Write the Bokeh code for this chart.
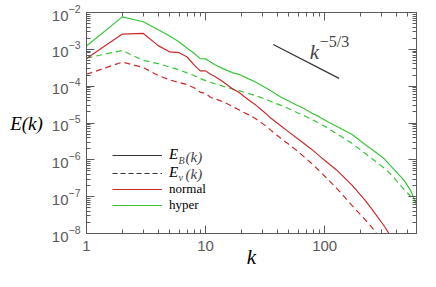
from bokeh.plotting import figure
from bokeh.models import (LogAxis, FixedTicker, Legend, LegendItem, Label,
                          CustomJSTickFormatter, ColumnDataSource)
from bokeh.embed import file_html
from bokeh.resources import INLINE

# wavenumbers
k = [1, 2, 3, 4, 5, 6, 7, 8, 9, 10, 11, 12, 14, 17, 19, 23, 26, 32, 35, 43,
     48, 59, 65, 79, 89, 104, 125, 171, 218, 250, 318, 350, 463, 530, 590]

# hyper: magnetic (solid) and kinetic (dashed) spectra
hyper_EB = [1.23e-3, 7.6e-3, 5.6e-3, 3.4e-3, 2.3e-3, 1.58e-3, 1.07e-3, 7.8e-4, 5.6e-4, 5.5e-4,
            4.5e-4, 3.8e-4, 3.0e-4, 2.3e-4, 2.1e-4, 1.58e-4, 1.32e-4, 9.1e-5, 7.6e-5, 5.0e-5,
            4.2e-5, 3.0e-5, 2.6e-5, 1.82e-5, 1.51e-5, 1.12e-5, 8.3e-6, 4.8e-6, 2.6e-6, 1.9e-6,
            1.05e-6, 7.4e-7, 2.8e-7, 1.41e-7, 6.0e-8]
hyper_Ev = [5.8e-4, 9.3e-4, 5.0e-4, 4.1e-4, 3.3e-4, 2.75e-4, 2.3e-4, 1.95e-4, 1.62e-4, 1.41e-4,
            1.26e-4, 1.17e-4, 1.0e-4, 8.3e-5, 7.6e-5, 6.3e-5, 5.6e-5, 4.4e-5, 3.9e-5, 3.0e-5,
            2.6e-5, 1.9e-5, 1.66e-5, 1.23e-5, 1.0e-5, 7.6e-6, 5.2e-6, 2.75e-6, 1.51e-6, 1.07e-6,
            5.9e-7, 4.4e-7, 1.58e-7, 1.0e-7, 6.8e-8]
# normal: magnetic (solid) and kinetic (dashed) spectra
normal_EB = [5.6e-4, 2.6e-3, 2.7e-3, 1.26e-3, 8.5e-4, 8.1e-4, 6.2e-4, 3.8e-4, 2.6e-4, 2.6e-4,
             2.1e-4, 1.82e-4, 1.32e-4, 8.3e-5, 6.8e-5, 4.2e-5, 3.2e-5, 1.82e-5, 1.38e-5, 8.3e-6,
             6.3e-6, 3.8e-6, 3.0e-6, 1.86e-6, 1.32e-6, 8.7e-7, 5.4e-7, 2.0e-7, 8.1e-8, 4.5e-8,
             1.55e-8, 9.5e-9, 1.8e-9, 6.3e-10, 2.5e-10]
normal_Ev = [2.1e-4, 4.5e-4, 3.2e-4, 1.95e-4, 1.48e-4, 1.26e-4, 1.1e-4, 9.1e-5, 6.9e-5, 6.3e-5,
             5.0e-5, 4.5e-5, 3.8e-5, 2.75e-5, 2.3e-5, 1.66e-5, 1.35e-5, 8.3e-6, 6.5e-6, 3.8e-6,
             2.9e-6, 1.74e-6, 1.32e-6, 7.6e-7, 5.2e-7, 3.2e-7, 1.74e-7, 5.6e-8, 2.4e-8, 1.45e-8,
             5.0e-9, 3.2e-9, 6.3e-10, 2.5e-10, 1.0e-10]

# k^-5/3 reference slope
slope_k = [37, 132]
slope_E = [1.36e-3, 1.63e-4]

x_major = [1, 10, 100]
x_labels = {1: "1", 10: "10", 100: "100"}
y_major = [1e-8, 1e-7, 1e-6, 1e-5, 1e-4, 1e-3, 1e-2]

GREEN = "#38c638"
RED = "#cc2b2b"
KEY = "#333333"
AX = "#5a5a5a"
SERIF = "Liberation Serif"
NAN = float("nan")

x_minor = [m * d for d in (1, 10, 100) for m in range(2, 10)]
y_minor = [m * d for d in y_major[:-1] for m in range(2, 10)]

p = figure(width=420, height=271, x_axis_type="log", y_axis_type="log",
           x_range=(1, 590), y_range=(1e-8, 1e-2),
           output_backend="svg", toolbar_location=None,
           min_border_left=86, min_border_right=4, min_border_top=12, min_border_bottom=30)
p.background_fill_color = "white"
p.border_fill_color = "white"
p.grid.visible = False
p.outline_line_color = AX
p.outline_line_width = 1

src = ColumnDataSource(dict(k=k, hEB=hyper_EB, hEv=hyper_Ev, nEB=normal_EB, nEv=normal_Ev))

rGS = p.line("k", "hEB", source=src, line_color=GREEN, line_width=1.2)
rGD = p.line("k", "hEv", source=src, line_color=GREEN, line_width=1.2, line_dash="6 4")
rRS = p.line("k", "nEB", source=src, line_color=RED, line_width=1.2)
rRD = p.line("k", "nEv", source=src, line_color=RED, line_width=1.2, line_dash="6 4")
p.line(slope_k, slope_E, line_color=KEY, line_width=1.2)

# legend key samples (nothing drawn in the plot)
kEB = p.line([NAN], [NAN], line_color=KEY, line_width=1.2)
kEv = p.line([NAN], [NAN], line_color=KEY, line_width=1.2, line_dash="5 3")


def style_axis(ax, ticks, minor):
    ax.ticker = FixedTicker(ticks=ticks, minor_ticks=minor)
    ax.axis_line_color = AX
    ax.major_tick_line_color = AX
    ax.minor_tick_line_color = AX
    ax.major_tick_in = 8
    ax.major_tick_out = 0
    ax.minor_tick_in = 4
    ax.minor_tick_out = 0
    ax.major_label_text_color = AX
    ax.major_label_text_font = "Liberation Sans"
    ax.major_label_text_font_size = "15px"


xa = p.xaxis[0]
style_axis(xa, x_major, x_minor)
xa.major_label_overrides = x_labels
xa.major_label_standoff = 7
xa.axis_label = "k"
xa.axis_label_text_font = SERIF
xa.axis_label_text_font_style = "italic"
xa.axis_label_text_font_size = "21px"
xa.axis_label_text_color = "black"
xa.axis_label_standoff = -9

ya = p.yaxis[0]
style_axis(ya, y_major, y_minor)
ya.major_label_standoff = 6
ya.axis_label = "E(k)"
ya.axis_label_orientation = "horizontal"
ya.axis_label_text_font = SERIF
ya.axis_label_text_font_style = "italic"
ya.axis_label_text_font_size = "19px"
ya.axis_label_text_color = "black"
ya.axis_label_standoff = 6

blank = CustomJSTickFormatter(code="return ''")
for loc, ticks, minor in (("right", y_major, y_minor), ("above", x_major, x_minor)):
    ax = LogAxis(formatter=blank)
    style_axis(ax, ticks, minor)
    ax.major_label_standoff = 0
    ax.major_label_text_font_size = "0px"
    p.add_layout(ax, loc)

# legend: spectrum type (math labels) and run type
legA = Legend(items=[LegendItem(label="E", renderers=[kEB]),
                     LegendItem(label="E", renderers=[kEv])],
              location=(26, 52), glyph_width=50, glyph_height=16, label_height=16,
              spacing=1, padding=0, margin=0, border_line_alpha=0,
              background_fill_alpha=0, label_standoff=7,
              label_text_font=SERIF, label_text_font_style="italic",
              label_text_font_size="15px", label_text_color="black")
legB = Legend(items=[LegendItem(label="normal", renderers=[rRS]),
                     LegendItem(label="hyper", renderers=[rGS])],
              location=(26, 20), glyph_width=50, glyph_height=16, label_height=16,
              spacing=0, padding=0, margin=0, border_line_alpha=0,
              background_fill_alpha=0, label_standoff=7,
              label_text_font=SERIF, label_text_font_size="13px",
              label_text_color="black")
p.add_layout(legA)
p.add_layout(legB)

for row_y, sub in ((77, "B"), (60, "v")):
    p.add_layout(Label(x=92, y=row_y - 4, x_units="screen", y_units="screen", text=sub,
                       text_font=SERIF, text_font_style="italic", text_font_size="10px",
                       text_baseline="middle"))
    p.add_layout(Label(x=99, y=row_y, x_units="screen", y_units="screen", text="(k)",
                       text_font=SERIF, text_font_style="italic", text_font_size="15px",
                       text_baseline="middle"))

p.add_layout(Label(x=75, y=8.6e-4, text="k", text_font=SERIF, text_font_style="italic",
                   text_font_size="21px", text_baseline="alphabetic"))
p.add_layout(Label(x=91, y=1.6e-3, text="\u22125/3", text_font=SERIF,
                   text_font_size="16px", text_baseline="alphabetic"))

open("out.html", "w").write(file_html(p, INLINE))
